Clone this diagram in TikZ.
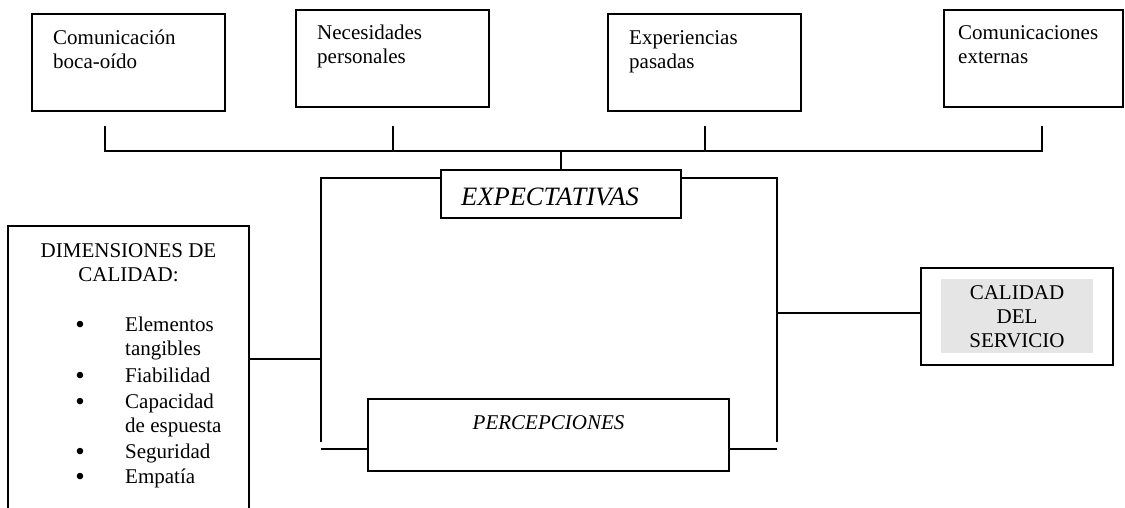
\documentclass[tikz,border=0pt]{standalone}
\usepackage{fontspec}
\setmainfont{Liberation Serif}
\newcommand\linesl[1]{\begin{tabular}[t]{@{}l@{}}#1\end{tabular}}
\newcommand\linesc[1]{\begin{tabular}[t]{@{}c@{}}#1\end{tabular}}
\begin{document}
\begin{tikzpicture}[x=1pt,y=-1pt,
  box/.style={draw, line width=1.5pt, inner sep=0pt, rectangle},
  ln/.style={line width=1.4pt},
  txt/.style={inner sep=0pt, font=\fontsize{21}{24}\selectfont},
  bul/.style={inner sep=0pt, font=\fontsize{27}{27}\selectfont, anchor=base},
  itxt/.style={inner sep=0pt, font=\fontsize{21}{24}\selectfont\itshape}]
\useasboundingbox (0,0) rectangle (1125,508);
\clip (0,0) rectangle (1125,508);
% top boxes
\node[box, minimum width=193pt, minimum height=97pt] (b1) at (128.5,62.5) {};
\node[box, minimum width=193pt, minimum height=97pt] (b2) at (392.5,58.5) {};
\node[box, minimum width=193pt, minimum height=97pt] (b3) at (704.5,62.5) {};
\node[box, minimum width=179pt, minimum height=97pt] (b4) at (1033.5,58.5) {};
\node[txt, anchor=base west] (tb1) at (53,45) {\linesl{Comunicación\\boca-oído}};
\node[txt, anchor=base west] (tb2) at (317,40) {\linesl{Necesidades\\personales}};
\node[txt, anchor=base west] (tb3) at (629,45) {\linesl{Experiencias\\pasadas}};
\node[txt, anchor=base west] (tb4) at (958,40) {\linesl{Comunicaciones\\externas}};
% expectativas / percepciones
\node[box, minimum width=240pt, minimum height=48pt] (exp) at (561,194) {};
\node[inner sep=0pt, font=\fontsize{26.5}{30}\selectfont\itshape, anchor=base west] (texp) at (461,205) {EXPECTATIVAS};
\node[box, minimum width=361pt, minimum height=72pt] (perc) at (548.5,435) {};
\node[itxt, anchor=base] (tperc) at (548.5,429) {PERCEPCIONES};
% dimensiones
\node[box, minimum width=241pt, minimum height=300pt] (dim) at (128.5,376) {};
\node[txt, anchor=base] (tdim) at (128.5,257) {\linesc{DIMENSIONES DE\\CALIDAD:}};
\node[bul] (u1) at (80,333) {•};
\node[bul] (u2) at (80,384) {•};
\node[bul] (u3) at (80,410) {•};
\node[bul] (u4) at (80,460) {•};
\node[bul] (u5) at (80,485) {•};
\node[txt, anchor=base west] (i1) at (125,331) {\linesl{Elementos\\tangibles}};
\node[txt, anchor=base west] (i2) at (125,382) {Fiabilidad};
\node[txt, anchor=base west] (i3) at (125,408) {\linesl{Capacidad\\de espuesta}};
\node[txt, anchor=base west] (i4) at (125,458) {Seguridad};
\node[txt, anchor=base west] (i5) at (125,483) {Empatía};
% calidad del servicio
\node[box, minimum width=192pt, minimum height=97pt] (cal) at (1017,316.5) {};
\node[fill=black!10, inner sep=0pt, minimum width=152pt, minimum height=74pt] (calf) at (1017,316) {};
\node[txt, anchor=base] (tcal) at (1017,299) {\linesc{CALIDAD\\DEL\\SERVICIO}};
% connector coordinates
\coordinate (t1) at (105,126);
\coordinate (t2) at (393,126);
\coordinate (t3) at (705,126);
\coordinate (t4) at (1042,126);
\coordinate (h) at (0,151);
\coordinate (bl) at (321,178);
\coordinate (br) at (777,178);
\coordinate (blb) at (321,442);
\coordinate (brb) at (777,442);
\coordinate (pl) at (321,449);
\coordinate (pr) at (777,449);
\coordinate (dj) at (321,359);
\coordinate (cj) at (777,313);
% connectors
\draw[ln] (t1) -- (t1 |- h) -- (t4 |- h) -- (t4);
\draw[ln] (t2) -- (t2 |- h);
\draw[ln] (t3) -- (t3 |- h);
\draw[ln] (exp.north) -- (exp.north |- h);
\draw[ln] (exp.west |- bl) -- (bl) -- (blb);
\draw[ln] (exp.east |- br) -- (br) -- (brb);
\draw[ln] (pl) -- (perc.west |- pl);
\draw[ln] (perc.east |- pr) -- (pr);
\draw[ln] (dim.east |- dj) -- (dj);
\draw[ln] (cj) -- (cal.west |- cj);
\end{tikzpicture}
\end{document}
